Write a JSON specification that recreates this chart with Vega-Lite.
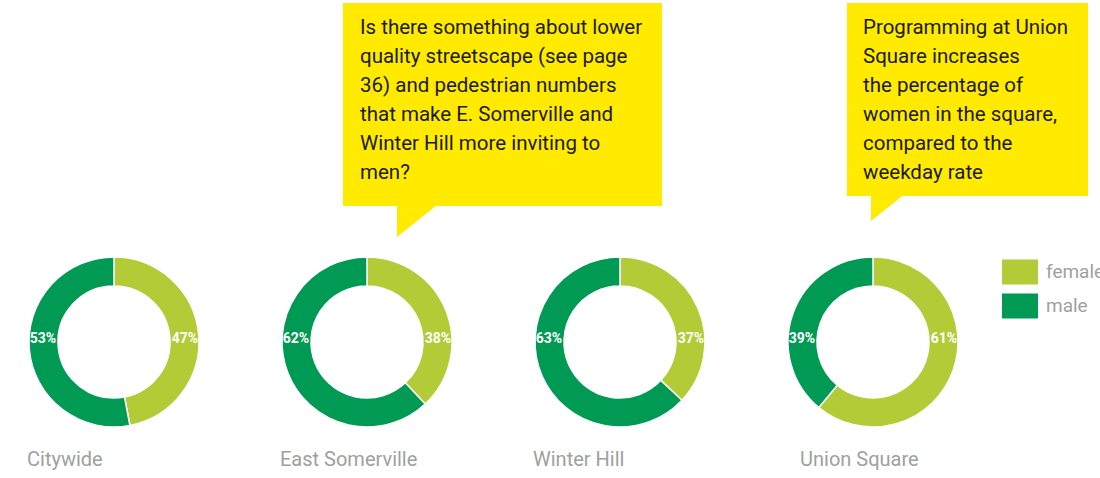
{
  "$schema": "https://vega.github.io/schema/vega-lite/v6.json",
  "autosize": {"type": "fit", "contains": "padding"},
  "width": 1100,
  "height": 478,
  "padding": 0,
  "background": "white",
  "config": {"view": {"stroke": null}, "font": "Roboto"},
  "datasets": {
    "shares": [
      {"region": "Citywide", "gender": "female", "share": 0.47},
      {"region": "Citywide", "gender": "male", "share": 0.53},
      {"region": "East Somerville", "gender": "female", "share": 0.38},
      {"region": "East Somerville", "gender": "male", "share": 0.62},
      {"region": "Winter Hill", "gender": "female", "share": 0.37},
      {"region": "Winter Hill", "gender": "male", "share": 0.63},
      {"region": "Union Square", "gender": "female", "share": 0.61},
      {"region": "Union Square", "gender": "male", "share": 0.39}
    ],
    "notes": [
      {"region": "East Somerville", "note": "Is there something about lower\nquality streetscape (see page\n36) and pedestrian numbers\nthat make E. Somerville and\nWinter Hill more inviting to\nmen?"},
      {"region": "Union Square", "note": "Programming at Union\nSquare increases\nthe percentage of\nwomen in the square,\ncompared to the\nweekday rate"}
    ]
  },
  "encoding": {
    "x": {
      "field": "region",
      "type": "nominal",
      "scale": {"type": "point", "padding": 0, "domain": ["Citywide", "East Somerville", "Winter Hill", "Union Square"], "range": [114, 873]},
      "axis": null
    }
  },
  "layer": [
    {
      "data": {"name": "shares"},
      "transform": [
        {"stack": "share", "groupby": ["region"], "sort": [{"field": "gender", "order": "ascending"}], "as": ["s0", "s1"]}
      ],
      "mark": {"type": "arc", "outerRadius": 85, "innerRadius": 56, "stroke": "white", "strokeWidth": 1.5},
      "encoding": {
        "y": {"value": 342},
        "theta": {"field": "s0", "type": "quantitative", "scale": {"domain": [0, 1]}},
        "theta2": {"field": "s1"},
        "color": {
          "field": "gender",
          "type": "nominal",
          "scale": {"domain": ["female", "male"], "range": ["#b2cb36", "#009a55"]},
          "legend": {
            "title": null,
            "orient": "none",
            "legendX": 1002,
            "legendY": 254,
            "symbolType": "M-1,-0.7H1V0.7H-1Z",
            "symbolSize": 1296,
            "symbolStrokeWidth": 0,
            "symbolOpacity": 1,
            "rowPadding": 3,
            "labelFontSize": 19,
            "labelColor": "#a0a0a0",
            "labelOffset": 8,
            "labelFont": "Roboto"
          }
        }
      }
    },
    {
      "data": {"name": "shares"},
      "transform": [{"filter": "datum.gender === 'female'"}],
      "mark": {"type": "text", "dx": 71, "fontSize": 14, "fontWeight": "bold", "color": "white", "align": "center", "baseline": "middle"},
      "encoding": {"y": {"value": 339}, "text": {"field": "share", "type": "quantitative", "format": ".0%"}}
    },
    {
      "data": {"name": "shares"},
      "transform": [{"filter": "datum.gender === 'male'"}],
      "mark": {"type": "text", "dx": -71, "fontSize": 14, "fontWeight": "bold", "color": "white", "align": "center", "baseline": "middle"},
      "encoding": {"y": {"value": 339}, "text": {"field": "share", "type": "quantitative", "format": ".0%"}}
    },
    {
      "data": {"name": "shares"},
      "transform": [{"filter": "datum.gender === 'female' && datum.region !== 'Union Square'"}],
      "mark": {"type": "text", "dx": -87, "fontSize": 20, "color": "#a0a0a0", "align": "left", "baseline": "middle"},
      "encoding": {"y": {"value": 460}, "text": {"field": "region"}}
    },
    {
      "data": {"name": "shares"},
      "transform": [{"filter": "datum.gender === 'female' && datum.region === 'Union Square'"}],
      "mark": {"type": "text", "dx": -73, "fontSize": 20, "color": "#a0a0a0", "align": "left", "baseline": "middle"},
      "encoding": {"y": {"value": 460}, "text": {"field": "region"}}
    },
    {
      "data": {"name": "notes"},
      "transform": [{"filter": "datum.region === 'East Somerville'"}],
      "mark": {"type": "rect", "color": "#ffea00", "xOffset": -24, "x2Offset": 295},
      "encoding": {"x2": {"field": "region"}, "y": {"value": 3}, "y2": {"value": 206}}
    },
    {
      "data": {"name": "notes"},
      "transform": [{"filter": "datum.region === 'East Somerville'"}],
      "mark": {"type": "point", "filled": true, "color": "#ffea00", "opacity": 1, "shape": "M0,0L0,2L2.5,0Z", "size": 1024, "xOffset": 30},
      "encoding": {"y": {"value": 205}}
    },
    {
      "data": {"name": "notes"},
      "transform": [{"filter": "datum.region === 'East Somerville'"}],
      "mark": {"type": "text", "lineBreak": "\n", "lineHeight": 29, "fontSize": 20.5, "color": "#1a1a1a", "align": "left", "baseline": "top", "dx": -7},
      "encoding": {"y": {"value": 18}, "text": {"field": "note"}}
    },
    {
      "data": {"name": "notes"},
      "transform": [{"filter": "datum.region === 'Union Square'"}],
      "mark": {"type": "rect", "color": "#ffea00", "xOffset": -26, "x2Offset": 215},
      "encoding": {"x2": {"field": "region"}, "y": {"value": 3}, "y2": {"value": 196}}
    },
    {
      "data": {"name": "notes"},
      "transform": [{"filter": "datum.region === 'Union Square'"}],
      "mark": {"type": "point", "filled": true, "color": "#ffea00", "opacity": 1, "shape": "M0,0L0,2L2.5,0Z", "size": 676, "xOffset": -2},
      "encoding": {"y": {"value": 195}}
    },
    {
      "data": {"name": "notes"},
      "transform": [{"filter": "datum.region === 'Union Square'"}],
      "mark": {"type": "text", "lineBreak": "\n", "lineHeight": 29, "fontSize": 20.5, "color": "#1a1a1a", "align": "left", "baseline": "top", "dx": -10},
      "encoding": {"y": {"value": 18}, "text": {"field": "note"}}
    }
  ]
}
